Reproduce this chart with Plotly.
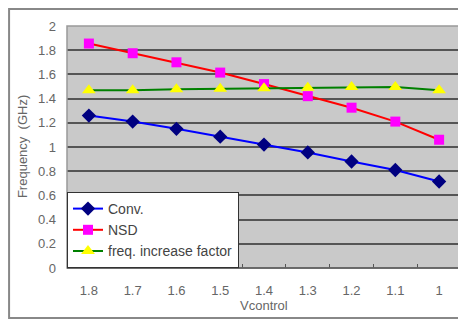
import plotly.graph_objects as go

categories = ["1.8", "1.7", "1.6", "1.5", "1.4", "1.3", "1.2", "1.1", "1"]
conv = [1.26, 1.21, 1.15, 1.085, 1.02, 0.955, 0.88, 0.81, 0.715]
nsd = [1.855, 1.775, 1.70, 1.615, 1.52, 1.42, 1.325, 1.21, 1.06]
freq_factor = [1.47, 1.47, 1.477, 1.482, 1.485, 1.49, 1.496, 1.496, 1.468]
y_ticks = [0, 0.2, 0.4, 0.6, 0.8, 1, 1.2, 1.4, 1.6, 1.8, 2]

FONT = "Liberation Sans, Arial, sans-serif"

fig = go.Figure()
fig.add_trace(go.Scatter(
    x=categories, y=conv, name="Conv.", mode="lines+markers",
    line=dict(color="#0000FF", width=2),
    marker=dict(symbol="diamond", size=11, color="#000080"),
))
fig.add_trace(go.Scatter(
    x=categories, y=nsd, name="NSD", mode="lines+markers",
    line=dict(color="#FF0000", width=2),
    marker=dict(symbol="square", size=10, color="#FF00FF"),
))
fig.add_trace(go.Scatter(
    x=categories, y=freq_factor, name="freq. increase factor", mode="lines+markers",
    line=dict(color="#008000", width=2),
    marker=dict(symbol="triangle-up", size=12, color="#FFFF00"),
))

# page body has an 8px default margin, so the figure is 8px smaller
fig.update_layout(
    width=458, height=312,
    margin=dict(l=59, r=5, t=18, b=52),
    paper_bgcolor="white",
    plot_bgcolor="#C9C9C9",
    font=dict(family=FONT, size=13, color="#555555"),
    showlegend=True,
    legend=dict(
        x=0, y=0, xanchor="left", yanchor="bottom",
        bgcolor="white", bordercolor="#333333", borderwidth=1,
        font=dict(family=FONT, size=14, color="#444444"),
        tracegroupgap=0, itemwidth=30,
    ),
    xaxis=dict(
        type="category", categoryorder="array", categoryarray=categories,
        range=[-0.5, 8.5], automargin=False,
        showgrid=False, zeroline=False,
        ticks="inside", tickson="boundaries", ticklen=4, tickcolor="#555555",
        showline=False,
        ticklabelstandoff=13,
        tickfont=dict(size=13, color="#666666"),
    ),
    yaxis=dict(
        range=[0, 2], tickvals=y_ticks, ticktext=[str(v) for v in y_ticks],
        automargin=False,
        showgrid=True, gridcolor="#555555", gridwidth=1.5,
        zeroline=False, showline=False,
        ticklabelstandoff=10,
        tickfont=dict(size=13, color="#666666"),
    ),
)

# plot area border
fig.add_shape(type="rect", xref="paper", yref="paper", x0=0, x1=1, y0=0, y1=1,
              line=dict(color="#999999", width=1.5), layer="above")
fig.add_shape(type="line", xref="paper", yref="paper", x0=0, x1=1, y0=0, y1=0,
              line=dict(color="#555555", width=1.5), layer="above")
# outer chart frame
fig.add_shape(type="rect", xref="paper", yref="paper",
              x0=-0.147, x1=1.1, y0=-0.207, y1=1.07,
              line=dict(color="#888888", width=2), layer="below")

fig.add_annotation(text="Vcontrol", xref="paper", yref="paper", x=0.5, y=-0.157,
                   xanchor="center", yanchor="middle", showarrow=False,
                   font=dict(family=FONT, size=13, color="#666666"))
fig.add_annotation(text="Frequency  (GHz)", xref="paper", yref="paper",
                   x=-0.114, y=0.5, xanchor="center", yanchor="middle",
                   textangle=-90, showarrow=False,
                   font=dict(family=FONT, size=13, color="#666666"))

fig.write_html("out.html")
